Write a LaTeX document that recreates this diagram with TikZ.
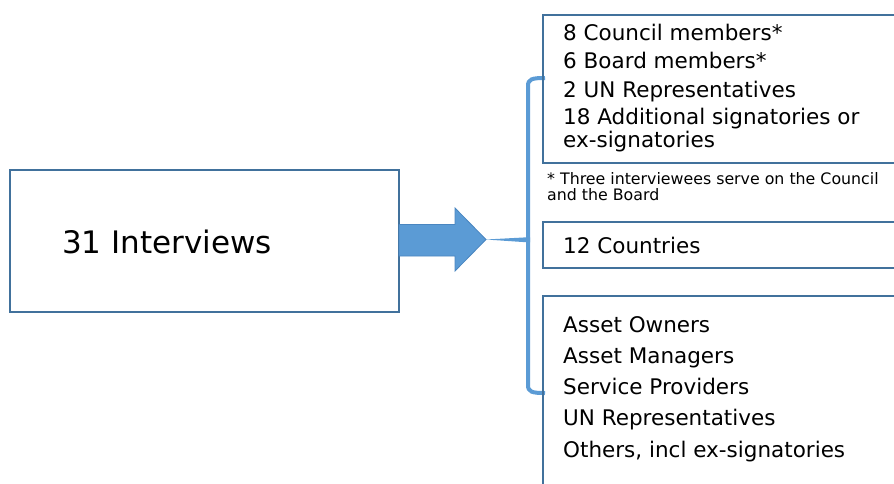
\documentclass[tikz,border=0pt]{standalone}
\usepackage{fontspec}
\setmainfont{DejaVu Sans}
\definecolor{boxline}{HTML}{41719C}
\definecolor{arrowfill}{HTML}{5B9BD5}
\definecolor{arrowline}{HTML}{4A86C0}
\begin{document}
\begin{tikzpicture}[x=1pt,y=-1pt,
  panel/.style={draw=boxline,line width=1.4pt},
  bigtxt/.style={anchor=base west,inner sep=0pt,font=\fontsize{31}{37}\selectfont},
  itemtxt/.style={anchor=base west,inner sep=0pt,font=\fontsize{21.5}{23}\selectfont,align=left},
  notetxt/.style={anchor=base west,inner sep=0pt,font=\fontsize{15.8}{16}\selectfont,align=left}]
\useasboundingbox (0,0) rectangle (894,483);
\clip (0,0) rectangle (894,483);
% left box
\draw[panel] (10,170) rectangle (399,312);
\node[bigtxt] (interviews) at (62,253) {31 Interviews};
% block arrow
\draw[fill=arrowfill,draw=arrowline,line width=0.8pt]
  (399,224.5) -- (455,224.5) -- (455,208) -- (486,239.5) -- (455,271) -- (455,256) -- (399,256) -- cycle;
\coordinate (tip) at (486,239.5);
% brace
\fill[arrowfill] (tip) -- (527,237.3) -- (530,237.3) -- (530,242.3) -- (527,242.3) -- cycle;
\draw[arrowfill,line width=4pt]
  (545,78) .. controls (532,78) and (528,79) .. (528,86) -- (528,385)
  .. controls (528,392) and (532,393) .. (545,393);
% top box
\draw[panel] (543,15) rectangle (900,163);
\node[itemtxt] (council) at (563,40) {8 Council members*};
\node[itemtxt] (board) at (563,68.5) {6 Board members*};
\node[itemtxt] (un1) at (563,97) {2 UN Representatives};
\node[itemtxt,anchor=north west] (add) at (563,108) {18 Additional signatories or\\ex-signatories};
% footnote
\node[notetxt] (note) at (547,200) {* Three interviewees serve on the Council\\and the Board};
% countries box
\draw[panel] (543,222) rectangle (900,268);
\node[itemtxt] (countries) at (563,253) {12 Countries};
% bottom box
\draw[panel] (543,296) rectangle (900,500);
\node[itemtxt] (owners) at (563,332) {Asset Owners};
\node[itemtxt] (managers) at (563,363) {Asset Managers};
\node[itemtxt] (providers) at (563,394) {Service Providers};
\node[itemtxt] (un2) at (563,425.5) {UN Representatives};
\node[itemtxt] (others) at (563,457) {Others, incl ex-signatories};
\end{tikzpicture}
\end{document}
